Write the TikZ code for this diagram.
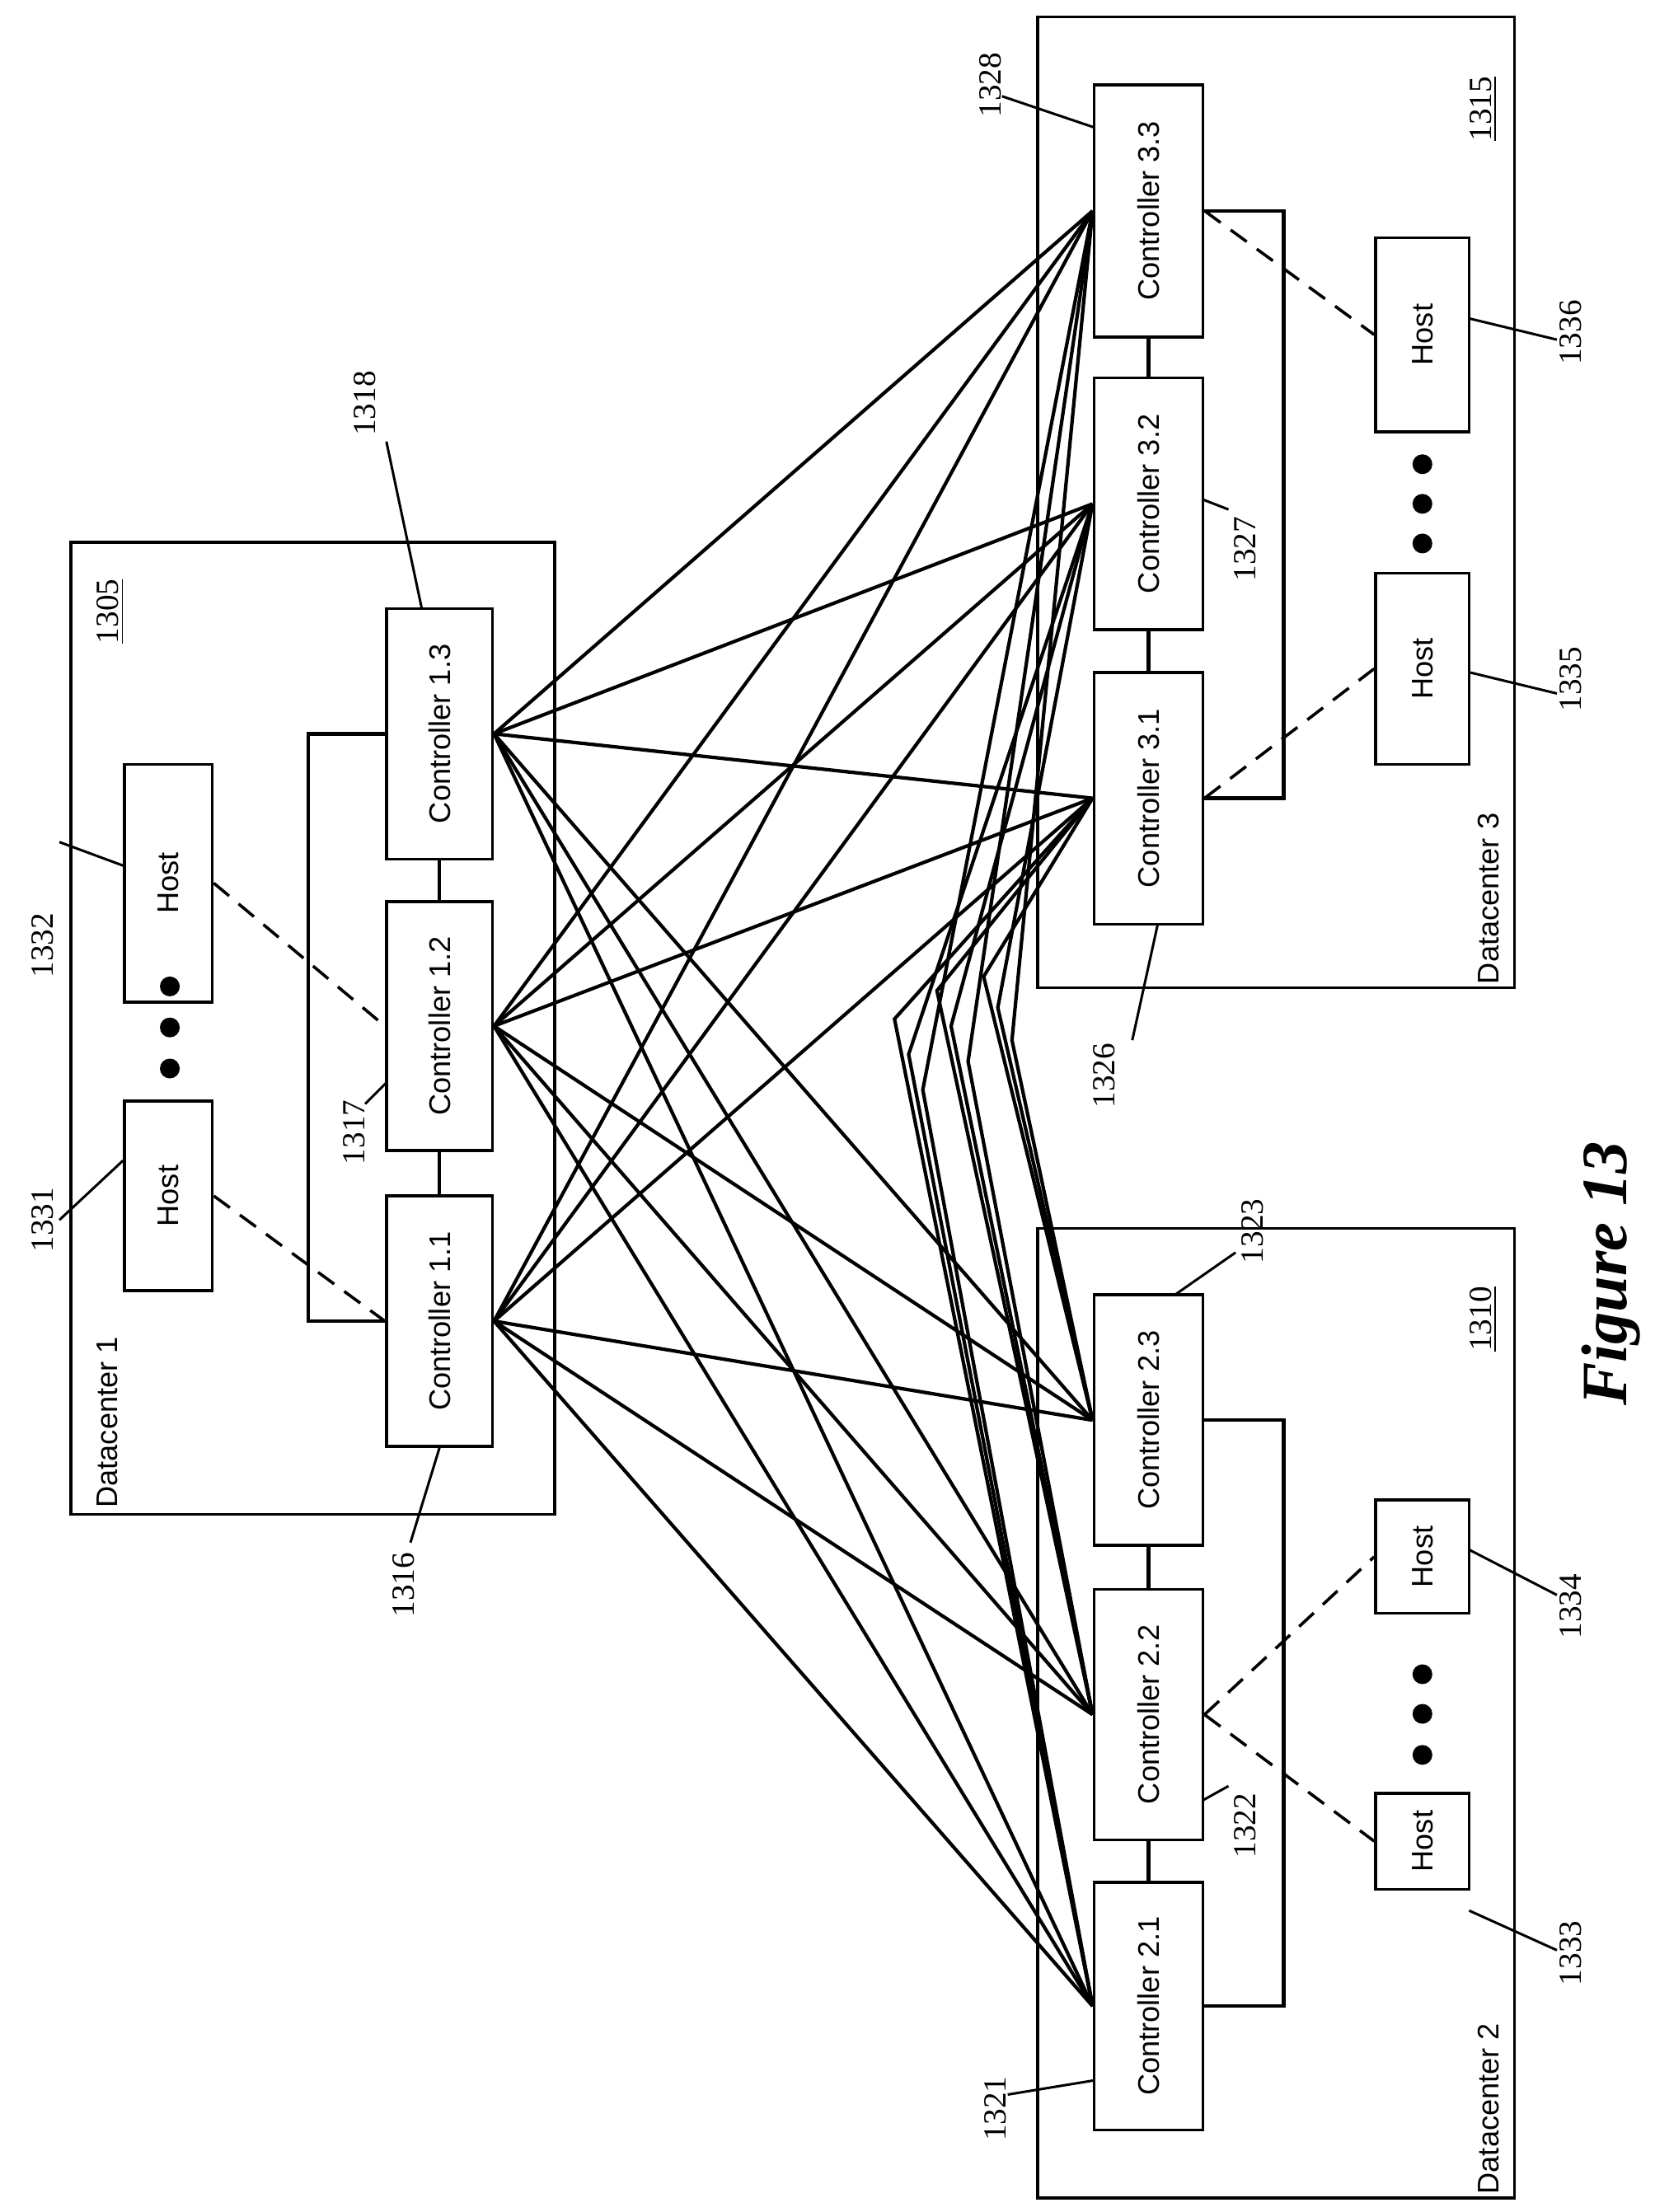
\documentclass[tikz,border=0pt]{standalone}
\usepackage{fontspec}
\setmainfont{Liberation Serif}
\setsansfont{Liberation Sans}
\begin{document}
\begin{tikzpicture}[x=0.02cm,y=-0.02cm,
 ctl/.style={draw,line width=1.2pt,inner sep=0pt,font=\sffamily\fontsize{12}{14}\selectfont},
 dc/.style={draw,line width=1.2pt},
 lbl/.style={rotate=90,font=\fontsize{13}{15}\selectfont},
 txt/.style={rotate=90,font=\sffamily\fontsize{12}{14}\selectfont},
 ln/.style={line width=1.4pt},
 ld/.style={line width=1pt},
 dsh/.style={line width=1.2pt,dash pattern=on 8pt off 5pt}]
\useasboundingbox (0,0) rectangle (1169,1563);
% datacenters
\draw[dc] (50,383) rectangle (392,1070);
\draw[dc] (733,868) rectangle (1070,1553);
\draw[dc] (733,12) rectangle (1070,698);
\node[txt] (d1) at (76,1005) {Datacenter 1};
\node[txt] (d2) at (1052,1490) {Datacenter 2};
\node[txt] (d3) at (1052,635) {Datacenter 3};
\node[lbl] (n1305) at (78,432) {\underline{1305}};
\node[lbl] (n1310) at (1048,932) {\underline{1310}};
\node[lbl] (n1315) at (1048,77) {\underline{1315}};
% controllers
\newcommand{\ctlbox}[6]{\node[ctl,minimum width=#4*0.02cm,minimum height=#5*0.02cm] (#1) at (#2,#3) {\rotatebox{90}{#6}};}
\ctlbox{c11}{310.5}{933.5}{75}{177}{Controller 1.1}
\ctlbox{c12}{310.5}{725}{75}{176}{Controller 1.2}
\ctlbox{c13}{310.5}{518.5}{75}{177}{Controller 1.3}
\ctlbox{c21}{811.5}{1417.5}{77}{175}{Controller 2.1}
\ctlbox{c22}{811.5}{1211.5}{77}{177}{Controller 2.2}
\ctlbox{c23}{811.5}{1003.5}{77}{177}{Controller 2.3}
\ctlbox{c33}{811.5}{149}{77}{178}{Controller 3.3}
\ctlbox{c32}{811.5}{356}{77}{178}{Controller 3.2}
\ctlbox{c31}{811.5}{564}{77}{178}{Controller 3.1}
\ctlbox{h32}{119}{624}{62}{168}{Host}
\ctlbox{h31}{119}{845}{62}{134}{Host}
\ctlbox{h34}{1005}{1100}{66}{80}{Host}
\ctlbox{h33}{1005}{1301}{66}{68}{Host}
\ctlbox{h36}{1005}{236.5}{66}{137}{Host}
\ctlbox{h35}{1005}{472.5}{66}{135}{Host}
% chain links
\draw[ln] (c11.north)--(c12.south) (c12.north)--(c13.south);
\draw[ln] (c21.north)--(c22.south) (c22.north)--(c23.south);
\draw[ln] (c31.north)--(c32.south) (c32.north)--(c33.south);
% brackets
\draw[ln] (c13.west)-|(218,725)|-(c11.west);
\draw[ln] (c23.east)-|(907,1210)|-(c21.east);
\draw[ln] (c33.east)-|(907,356)|-(c31.east);
% dots
\foreach \y in {697,726,755} \fill (120,\y) circle (7);
\foreach \y in {1183,1211,1240} \fill (1005,\y) circle (7);
\foreach \y in {328,356,384} \fill (1005,\y) circle (7);
% dashed
\draw[dsh] (h31.east)--(c11.west);
\draw[dsh] (h32.east)--(c12.west);
\draw[dsh] (c22.east)--(h34.west);
\draw[dsh] (c22.east)--(h33.west);
\draw[dsh] (c33.east)--(h36.west);
\draw[dsh] (c31.east)--(h35.west);
% inter-datacenter links DC1
\foreach \a in {c11,c12,c13}
 \foreach \b in {c21,c22,c23,c31,c32,c33}
  \draw[ln] (\a.east)--(\b.west);
% DC2 - DC3 links with kinks
\draw[ln] (c21.west)--(632,720)--(c31.west);
\draw[ln] (c21.west)--(642,745)--(c32.west);
\draw[ln] (c21.west)--(652,770)--(c33.west);
\draw[ln] (c22.west)--(662,700)--(c31.west);
\draw[ln] (c22.west)--(672,725)--(c32.west);
\draw[ln] (c22.west)--(684,750)--(c33.west);
\draw[ln] (c23.west)--(695,690)--(c31.west);
\draw[ln] (c23.west)--(705,712)--(c32.west);
\draw[ln] (c23.west)--(715,735)--(c33.west);
% reference labels
\node[lbl] (n1331) at (30,862) {1331}; \draw[ld] (42,862)--(h31.west|-0,820);
\node[lbl] (n1332) at (30,668) {1332}; \draw[ld] (42,595)--(88,612);
\node[lbl] (n1316) at (285,1120) {1316}; \draw[ld] (290,1090)--(c11.south);
\node[lbl] (n1317) at (250,800) {1317}; \draw[ld] (258,780)--(273,765);
\node[lbl] (n1318) at (258,285) {1318}; \draw[ld] (273,312)--(298,430);
\node[lbl] (n1321) at (703,1490) {1321}; \draw[ld] (712,1480)--(773,1470);
\node[lbl] (n1322) at (880,1290) {1322}; \draw[ld] (868,1262)--(850,1272);
\node[lbl] (n1323) at (885,870) {1323}; \draw[ld] (873,885)--(830,915);
\node[lbl] (n1333) at (1110,1380) {1333}; \draw[ld] (1038,1350)--(1100,1378);
\node[lbl] (n1334) at (1110,1135) {1334}; \draw[ld] (1038,1095)--(1100,1127);
\node[lbl] (n1328) at (700,60) {1328}; \draw[ld] (708,68)--(773,90);
\node[lbl] (n1327) at (880,388) {1327}; \draw[ld] (868,360)--(850,353);
\node[lbl] (n1326) at (780,760) {1326}; \draw[ld] (800,735)--(818,653);
\node[lbl] (n1336) at (1110,235) {1336}; \draw[ld] (1038,225)--(1100,240);
\node[lbl] (n1335) at (1110,480) {1335}; \draw[ld] (1038,475)--(1100,490);
\node[rotate=90,font=\bfseries\itshape\fontsize{26}{30}\selectfont] (fig) at (1138,900) {Figure 13};
\end{tikzpicture}
\end{document}
